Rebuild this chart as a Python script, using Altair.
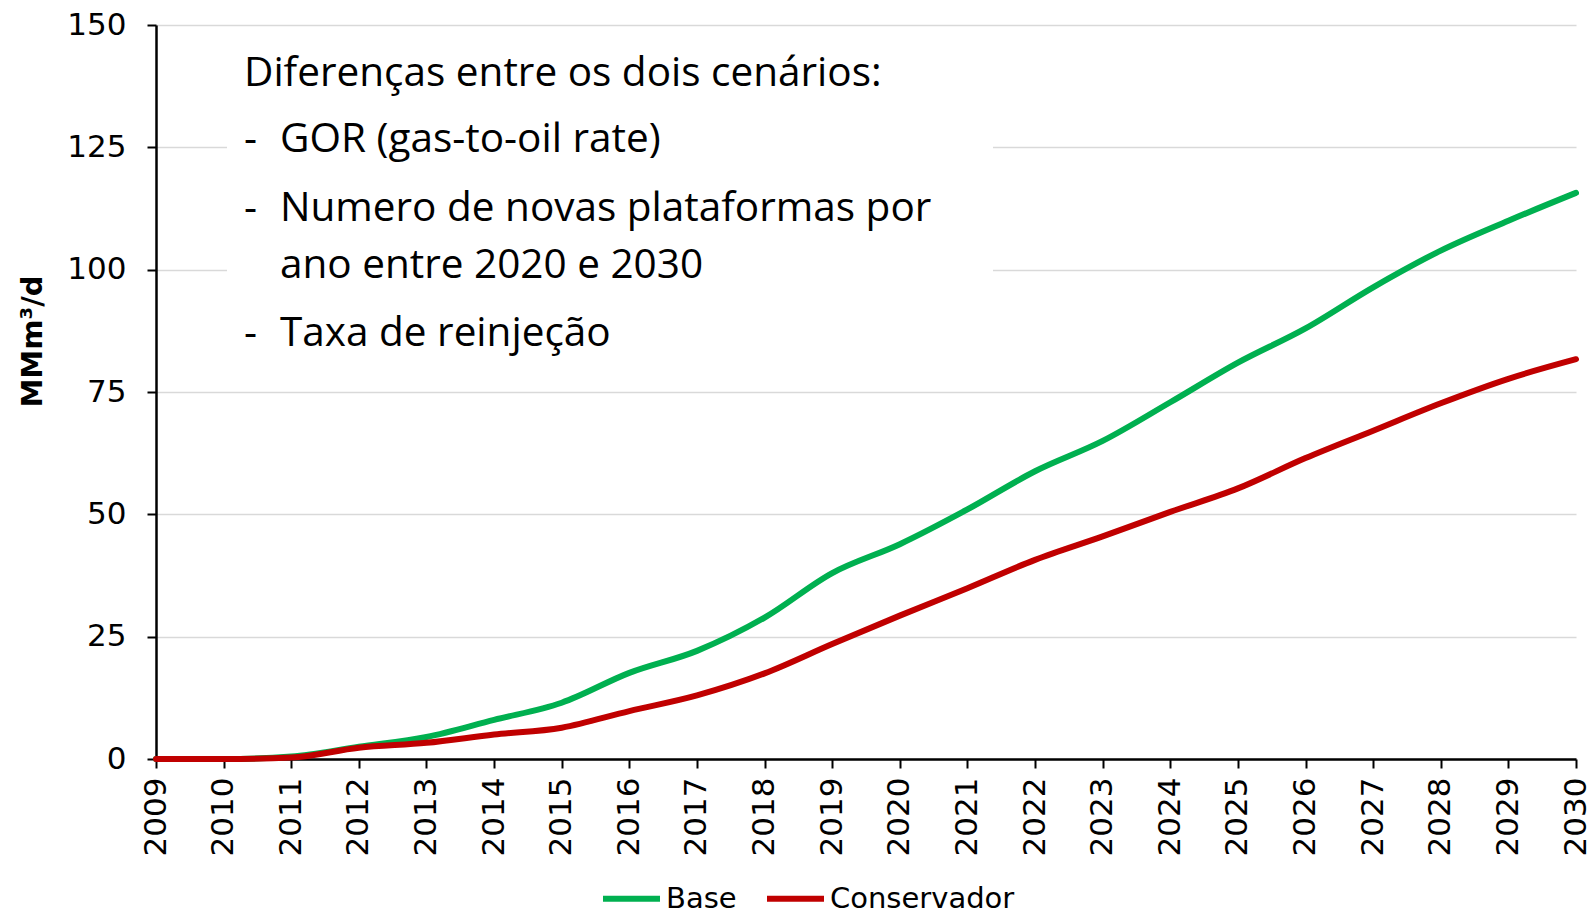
import altair as alt
import pandas as pd

years = list(range(2009, 2031))
base = [0, 0, 0.5, 2.5, 4.5, 8, 11.5, 17.6, 22.1, 28.9, 38, 43.9, 51, 58.8, 65, 72.9,
        81, 88, 96.4, 103.9, 110, 115.7]
conservador = [0, 0, 0.3, 2.3, 3.3, 5, 6.4, 9.8, 13, 17.5, 23.5, 29.3, 34.9, 40.7, 45.5,
               50.5, 55.3, 61.5, 67.1, 72.7, 77.7, 81.7]
series_names = ["Base", "Conservador"]
series_colors = ["#00B050", "#C00000"]
y_ticks = [0, 25, 50, 75, 100, 125, 150]
y_title = "MMm³/d"

note_lines = [
    ("", "Diferenças entre os dois cenários:", 49),
    ("-", "GOR (gas-to-oil rate)", 115),
    ("-", "Numero de novas plataformas por", 184),
    ("", "ano entre 2020 e 2030", 241),
    ("-", "Taxa de reinjeção", 309),
]

rows = []
for name, vals in zip(series_names, [base, conservador]):
    for yr, v in zip(years, vals):
        rows.append({"ano": yr, "valor": v, "cenario": name})
df = pd.DataFrame(rows)

W, H = 1420, 734
FONT = "DejaVu Sans"
NOTE_FONT = "Open Sans"

lines = alt.Chart(df).mark_line(strokeWidth=6, interpolate="monotone", strokeCap="round").encode(
    x=alt.X("ano:Q",
            scale=alt.Scale(domain=[2009, 2030], nice=False, zero=False),
            axis=alt.Axis(values=years, format="d", labelAngle=270, title=None, grid=False,
                          labelPadding=9, labelFontSize=31)),
    y=alt.Y("valor:Q",
            scale=alt.Scale(domain=[0, 150], nice=False),
            axis=alt.Axis(values=y_ticks, title=y_title, grid=True, labelPadding=21,
                          labelFontSize=31,
                          titleAngle=270, titleX=-124, titleY=316, titleBaseline="middle",
                          titleAlign="center", titleFontWeight="bold", titleFontSize=29)),
    color=alt.Color("cenario:N",
                    scale=alt.Scale(domain=series_names, range=series_colors),
                    legend=alt.Legend(title=None, orient="none", direction="horizontal",
                                      legendX=444, legendY=842, symbolType="stroke",
                                      symbolSize=3249, symbolStrokeWidth=6,
                                      labelFontSize=29, labelFont=FONT, labelOffset=3,
                                      labelLimit=0, columnPadding=18, padding=0,
                                      labelColor="#000")),
)

box = alt.Chart(pd.DataFrame({"a": [0]})).mark_rect(color="white").encode(
    x=alt.value(71), x2=alt.value(837), y=alt.value(8), y2=alt.value(358)
)

note_df = pd.DataFrame([{"dash": d, "txt": t, "ypos": y} for d, t, y in note_lines])
note_df["xpos"] = [88, 124, 124, 124, 124]

note_text = alt.Chart(note_df).mark_text(
    align="left", baseline="middle", font=NOTE_FONT, fontSize=40.5, color="#000"
).encode(x=alt.X("xpos:Q", scale=None), y=alt.Y("ypos:Q", scale=None), text="txt:N")

dash_df = note_df[note_df["dash"] != ""]
note_dash = alt.Chart(dash_df).mark_text(
    align="left", baseline="middle", font=NOTE_FONT, fontSize=40.5, color="#000"
).encode(x=alt.value(88), y=alt.Y("ypos:Q", scale=None), text="dash:N")

chart = alt.layer(box, lines, note_text, note_dash).properties(
    width=W, height=H,
    autosize=alt.AutoSizeParams(type="none"),
    padding={"left": 148, "top": 17, "right": 12, "bottom": 156},
).configure_view(stroke=None).configure_axis(
    labelFont=FONT, labelColor="#000", titleFont=FONT, titleColor="#000",
    domainColor="#000", domainWidth=2.5, tickColor="#000", tickWidth=2, tickSize=9,
    gridColor="#d9d9d9", gridWidth=1.5,
)

chart.save("out.html", embed_options={"renderer": "svg", "actions": False})
